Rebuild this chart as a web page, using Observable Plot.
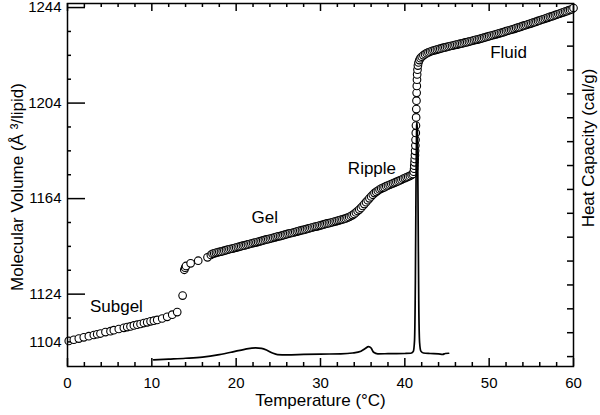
<!DOCTYPE html>
<html><head><meta charset="utf-8">
<script src="https://cdn.jsdelivr.net/npm/d3@7"></script>
<script src="https://cdn.jsdelivr.net/npm/@observablehq/plot@0.6"></script>
<style>body{margin:0;background:#fff} svg{display:block}</style>
</head><body><div id="chart"></div>
<script>
// ---- Molecular volume (Å^3/lipid) vs temperature (°C), by phase ----
const subgelT = [0.15,0.75,1.34,1.93,2.53,3.12,3.52,3.91,4.5,5.1,5.49,6.08,6.68,7.08,7.47,7.87,8.27,8.66,9.06,9.45,9.85,10.24,10.64,11.23,11.82,12.42,13.01,13.65];
const subgelV = [1104.4,1104.9,1105.4,1105.9,1106.4,1106.9,1107.2,1107.5,1108.1,1108.5,1108.9,1109.4,1109.9,1110.2,1110.5,1110.9,1111.2,1111.5,1111.9,1112.2,1112.6,1112.9,1113.2,1113.8,1114.5,1115.4,1116.5,1123.4];

const gelT = [13.85,13.95,14.05,14.6,15.5,16.6,17.0,17.2,17.4,17.6,17.8,18.0,18.2,18.4,18.6,18.8,19.0,19.2,19.4,19.6,19.8,20.0,20.2,20.4,20.6,20.8,21.0,21.2,21.4,21.6,21.8,22.0,22.2,22.4,22.6,22.8,23.0,23.2,23.4,23.6,23.8,24.0,24.2,24.4,24.6,24.8,25.0,25.2,25.4,25.6,25.8,26.0,26.2,26.4,26.6,26.8,27.0,27.2,27.4,27.6,27.8,28.0,28.2,28.4,28.6,28.8,29.0,29.2,29.4,29.6,29.8,30.0,30.2,30.4,30.6,30.8,31.0,31.2,31.4,31.6,31.8,32.0,32.2,32.4,32.6,32.8,33.0,33.2,33.4,33.6];
const gelV = [1134.2,1135.1,1135.8,1136.9,1138.0,1139.4,1140.4,1140.9,1141.1,1141.3,1141.5,1141.7,1141.8,1142.0,1142.2,1142.4,1142.6,1142.8,1143.0,1143.1,1143.3,1143.5,1143.7,1143.9,1144.1,1144.3,1144.4,1144.6,1144.8,1145.0,1145.2,1145.4,1145.6,1145.7,1145.9,1146.1,1146.3,1146.5,1146.7,1146.9,1147.0,1147.2,1147.4,1147.6,1147.8,1148.0,1148.2,1148.3,1148.5,1148.7,1148.9,1149.1,1149.3,1149.5,1149.6,1149.8,1150.0,1150.2,1150.4,1150.6,1150.8,1150.9,1151.1,1151.3,1151.5,1151.7,1151.9,1152.1,1152.3,1152.4,1152.6,1152.8,1153.0,1153.2,1153.4,1153.6,1153.7,1153.9,1154.1,1154.3,1154.5,1154.7,1154.9,1155.1,1155.3,1155.5,1155.7,1156.0,1156.3,1156.7];

const rippleT = [33.8,34.0,34.2,34.4,34.6,34.8,35.0,35.2,35.4,35.6,35.8,36.0,36.2,36.4,36.6,36.8,37.0,37.2,37.4,37.6,37.8,38.0,38.2,38.4,38.6,38.8,39.0,39.2,39.4,39.6,39.8,40.0,40.2,40.4,40.6,40.8,40.95];
const rippleV = [1157.1,1157.6,1158.2,1158.8,1159.4,1160.1,1160.9,1161.7,1162.5,1163.3,1164.1,1164.9,1165.6,1166.3,1166.8,1167.3,1167.8,1168.2,1168.5,1168.8,1169.2,1169.5,1169.8,1170.1,1170.4,1170.7,1171.0,1171.3,1171.6,1171.9,1172.3,1172.6,1172.9,1173.2,1173.5,1173.9,1174.3];

const meltT = [41.05,41.1,41.12,41.15,41.17,41.2,41.22,41.25,41.27,41.3,41.32,41.34,41.36,41.38,41.4,41.42,41.44,41.46,41.5,41.55,41.62];
const meltV = [1175.3,1176.5,1177.8,1179.2,1180.6,1182.2,1184.0,1186.2,1188.6,1191.5,1194.6,1198.0,1201.5,1205.0,1208.3,1211.2,1213.8,1216.0,1218.0,1219.7,1221.0];

const fluidT = [41.72,41.85,42.0,42.2,42.4,42.6,42.8,43.0,43.2,43.4,43.6,43.8,44.0,44.2,44.4,44.6,44.8,45.0,45.2,45.4,45.6,45.8,46.0,46.2,46.4,46.6,46.8,47.0,47.2,47.4,47.6,47.8,48.0,48.2,48.4,48.6,48.8,49.0,49.2,49.4,49.6,49.8,50.0,50.2,50.4,50.6,50.8,51.0,51.2,51.4,51.6,51.8,52.0,52.2,52.4,52.6,52.8,53.0,53.2,53.4,53.6,53.8,54.0,54.2,54.4,54.6,54.8,55.0,55.2,55.4,55.6,55.8,56.0,56.2,56.4,56.6,56.8,57.0,57.2,57.4,57.6,57.8,58.0,58.2,58.4,58.6,58.8,59.0,59.2,59.4,59.6,59.8,60.0];
const fluidV = [1222.0,1222.8,1223.4,1224.0,1224.5,1224.9,1225.2,1225.5,1225.8,1226.0,1226.2,1226.4,1226.6,1226.8,1227.0,1227.2,1227.3,1227.5,1227.7,1227.9,1228.0,1228.2,1228.4,1228.5,1228.7,1228.9,1229.0,1229.2,1229.4,1229.5,1229.7,1229.9,1230.1,1230.3,1230.5,1230.6,1230.8,1231.0,1231.2,1231.4,1231.6,1231.8,1232.0,1232.2,1232.4,1232.6,1232.8,1233.0,1233.2,1233.4,1233.6,1233.8,1234.1,1234.3,1234.5,1234.7,1234.9,1235.1,1235.4,1235.6,1235.8,1236.0,1236.3,1236.5,1236.7,1237.0,1237.2,1237.4,1237.7,1237.9,1238.1,1238.4,1238.6,1238.9,1239.1,1239.3,1239.6,1239.8,1240.1,1240.3,1240.5,1240.8,1241.0,1241.3,1241.5,1241.8,1242.0,1242.3,1242.5,1242.8,1243.0,1243.3,1243.8];

// ---- DSC heat capacity (cal/g, right axis) ----
const dscT  = [10.2,12,14,16,18,19.5,21,22.3,23.0,23.7,24.3,24.9,26,28,30,32.4,33.8,34.8,35.3,35.7,36.0,36.3,36.8,38,40.0,40.7,41.0,41.15,41.25,41.33,41.4,41.45,41.5,41.58,41.65,41.75,41.9,42.2,43,44,44.5,44.8,45.2];
const dscCp = [0.073,0.079,0.086,0.096,0.117,0.138,0.161,0.173,0.169,0.151,0.130,0.117,0.115,0.118,0.121,0.123,0.130,0.145,0.167,0.184,0.172,0.136,0.123,0.124,0.126,0.128,0.142,0.234,0.736,1.573,2.033,2.061,1.950,1.238,0.569,0.218,0.146,0.130,0.126,0.123,0.119,0.126,0.128];

// ---- axes ----
const xLabels = [0,10,20,30,40,50,60];
const xMinor  = [2,4,6,8,12,14,16,18,22,24,26,28,32,34,36,38,42,44,46,48,52,54,56,58];
const yLabels = [1244,1204,1164,1124,1104];
const yMajor  = [1244,1204,1164,1124];
const yMinor  = [1234,1224,1214,1194,1184,1174,1154,1144,1134,1114,1104];
const cpTicks = [0.1,0.3,0.5,0.7,0.9,1.1,1.3,1.5,1.7,1.9,2.1,2.3,2.5,2.7,2.9];

// ---- phase labels ----
const phaseNames = ["Subgel","Gel","Ripple","Fluid"];
const phaseT = [5.8,23.4,36.1,52.3];
const phaseV = [1118.8,1156.0,1176.4,1225.3];

// right-axis (cal/g) to left-axis (Å^3) conversion
const cpZeroV = 1092.85, vPerCp = 50;
const toV = cp => cpZeroV + cp * vPerCp;

const zip = (T, V) => T.map((t, i) => ({T: t, V: V[i]}));
const volume = [
  ...zip(subgelT, subgelV), ...zip(gelT, gelV), ...zip(rippleT, rippleV),
  ...zip(meltT, meltV), ...zip(fluidT, fluidV)
];
const dsc = dscT.map((t, i) => ({T: t, Cp: dscCp[i]}));
const phases = phaseNames.map((n, i) => ({name: n, T: phaseT[i], V: phaseV[i]}));

// layout
const W = 600, H = 415, mL = 67, mR = 27, mT = 3, mB = 49;
const fW = W - mL - mR, fH = H - mT - mB;
const tickStyle = {stroke: "black", strokeWidth: 1.5};
// inward tick helpers (length in px)
const bottomTicks = (vals, len) => Plot.tickX(vals, {x: d => d, insetTop: fH - len, ...tickStyle});
const topTicks    = (vals, len) => Plot.tickX(vals, {x: d => d, insetBottom: fH - len, ...tickStyle});
const leftTicks   = (vals, len) => Plot.tickY(vals, {y: d => d, insetRight: fW - len, ...tickStyle});
const rightTicks  = (vals, len) => Plot.tickY(vals, {y: d => d, insetLeft: fW - len, ...tickStyle});

const chart = Plot.plot({
  width: W, height: H,
  marginLeft: mL, marginRight: mR, marginTop: mT, marginBottom: mB,
  x: {domain: [0, 60]},
  y: {domain: [1093.7, 1245.7]},
  style: {fontFamily: "'Liberation Sans', Arial, sans-serif", fontSize: "15px", color: "#000", background: "#fff"},
  marks: [
    Plot.dot(volume, {x: "T", y: "V", r: 3.8, fill: "white", stroke: "black", strokeWidth: 1.1}),
    Plot.line(dsc, {x: "T", y: d => toV(d.Cp), stroke: "black", strokeWidth: 1.7, curve: "monotone-x"}),
    Plot.frame({stroke: "black", strokeWidth: 1.5}),
    // tick labels
    Plot.axisX({anchor: "bottom", ticks: xLabels, tickSize: 0, tickPadding: 11, tickFormat: d => String(d), label: null}),
    Plot.axisY({anchor: "left", ticks: yLabels, tickSize: 0, tickPadding: 6, tickFormat: d => String(d), label: null}),
    // inward ticks
    bottomTicks(xLabels, 8), bottomTicks(xMinor, 4),
    topTicks(xLabels, 8), topTicks(xMinor, 4),
    leftTicks(yMajor, 18), leftTicks(yMinor, 4),
    rightTicks(cpTicks.map(toV), 6),
    // titles
    Plot.text(["Temperature (°C)"], {frameAnchor: "bottom", textAnchor: "middle", dy: 39, fontSize: 17}),
    Plot.text(["Molecular Volume (Å ³/lipid)"], {frameAnchor: "left", textAnchor: "middle", rotate: -90, dx: -50, dy: 2, fontSize: 17}),
    Plot.text(["Heat Capacity (cal/g)"], {frameAnchor: "right", textAnchor: "middle", rotate: -90, dx: 15, dy: -37, fontSize: 17}),
    // phase labels
    Plot.text(phases, {x: "T", y: "V", text: "name", fontSize: 17})
  ]
});
document.getElementById("chart").append(chart);
</script></body></html>
